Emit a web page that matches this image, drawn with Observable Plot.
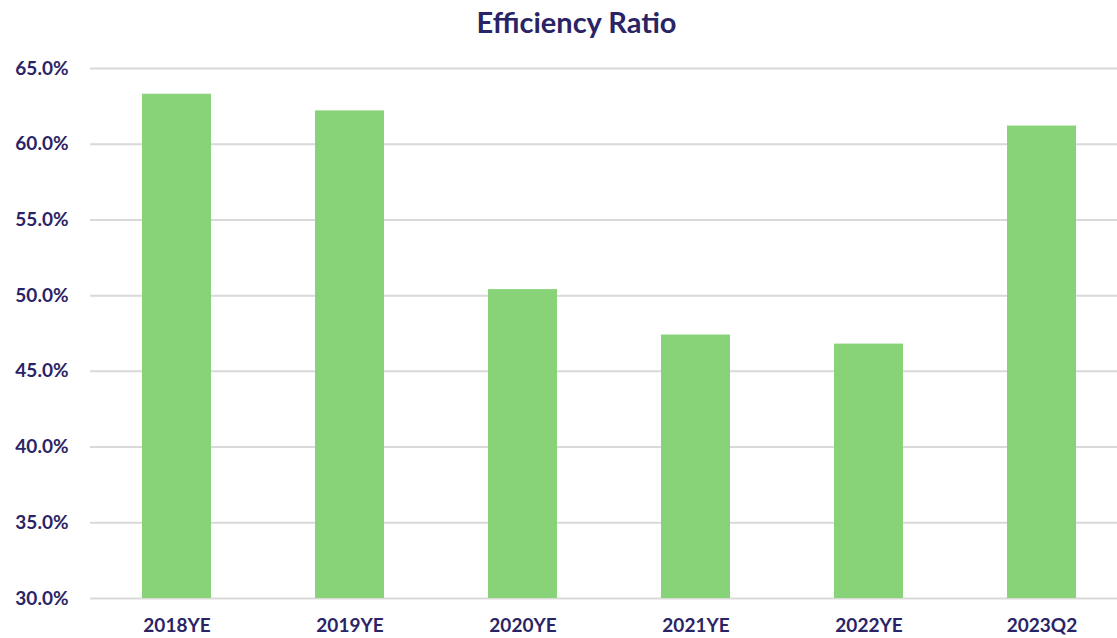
<!DOCTYPE html>
<html>
<head>
<meta charset="utf-8">
<script src="https://cdn.jsdelivr.net/npm/d3@7"></script>
<script src="https://cdn.jsdelivr.net/npm/@observablehq/plot@0.6"></script>
<style>
  html, body { margin: 0; padding: 0; background: #fff; }
  #title { height: 45px; line-height: 44px; text-align: center; font-family: Lato, "Open Sans", sans-serif; font-weight: bold; font-size: 29px; color: #2a2466; padding-left: 36px; box-sizing: border-box; }
  svg { display: block; }
</style>
</head>
<body>
<div id="title">Efficiency Ratio</div>
<div id="chart"></div>
<script>
const categories = ["2018YE", "2019YE", "2020YE", "2021YE", "2022YE", "2023Q2"];
const values = [63.3, 62.2, 50.4, 47.4, 46.8, 61.2];
const yTicks = [30, 35, 40, 45, 50, 55, 60, 65];

const data = categories.map((c, i) => ({ category: c, value: values[i] }));

const chart = Plot.plot({
  width: 1117,
  height: 593,
  marginTop: 23,
  marginBottom: 40,
  marginLeft: 90,
  marginRight: 0,
  style: { fontFamily: "Lato, 'Open Sans', sans-serif", fontWeight: "bold", fontSize: "19px", color: "#2a2466", background: "#fff" },
  x: { domain: categories, range: [90.5, 1128.5], paddingInner: 0.6, paddingOuter: 0.3, label: null, tickSize: 0, tickPadding: 20 },
  y: { domain: [30, 65], ticks: yTicks, tickFormat: d => d.toFixed(1) + "%", label: null, tickSize: 0, tickPadding: 22 },
  marks: [
    Plot.gridY(yTicks, { stroke: "#d9d9d9", strokeOpacity: 1, strokeWidth: 2 }),
    Plot.barY(data, { x: "category", y1: 30, y2: "value", fill: "#88d378" }),
    Plot.axisY({ ticks: yTicks, tickFormat: d => d.toFixed(1) + "%", tickSize: 0, tickPadding: 22, label: null, fill: "#2a2466", fontSize: 19 }),
    Plot.axisX({ tickSize: 0, tickPadding: 20, label: null, fill: "#2a2466", fontSize: 19 })
  ]
});
document.getElementById("chart").appendChild(chart);
</script>
</body>
</html>
